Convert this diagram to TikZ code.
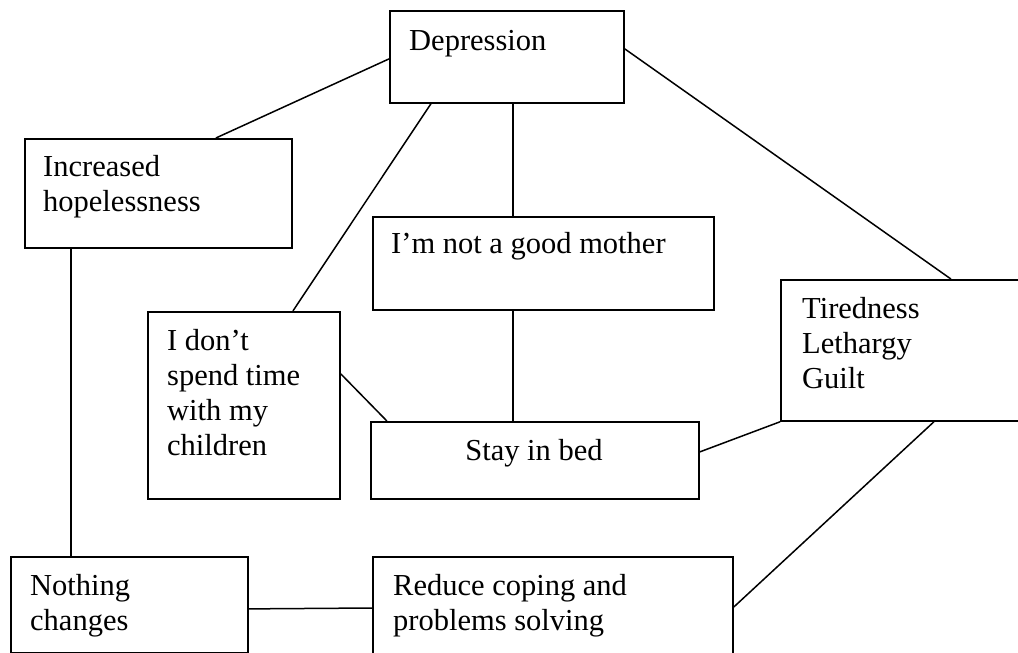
\documentclass[tikz,border=0pt]{standalone}
\usepackage{fontspec}
\setmainfont{Liberation Serif}
\begin{document}
\begin{tikzpicture}[x=1pt,y=-1pt,
  font=\fontsize{30.5}{35.3}\selectfont,
  box/.style={draw,line width=1.8pt,rectangle,inner sep=0pt,anchor=north west},
  txt/.style={inner sep=0pt,anchor=base west},
  link/.style={line width=1.5pt}]
\useasboundingbox (0,0) rectangle (1018,653);
\fill[white] (0,0) rectangle (1018,653);
\clip (0,0) rectangle (1018,653);

% boxes
\node[box,minimum width=234pt,minimum height=92pt]  (dep)  at (389,10)  {};
\node[box,minimum width=267pt,minimum height=109pt] (hop)  at (24,138)  {};
\node[box,minimum width=341pt,minimum height=93pt]  (mom)  at (372,216) {};
\node[box,minimum width=192pt,minimum height=187pt] (dont) at (147,311) {};
\node[box,minimum width=260pt,minimum height=141pt] (tir)  at (780,279) {};
\node[box,minimum width=328pt,minimum height=77pt]  (stay) at (370,421) {};
\node[box,minimum width=237pt,minimum height=96pt]  (noth) at (10,556)  {};
\node[box,minimum width=360pt,minimum height=110pt] (red)  at (372,556) {};

% labels
\node[txt] (tdep)  at (409,50)  {Depression};
\node[txt] (thop)  at (43,176)  {\vtop{\hbox{Increased}\hbox{hopelessness}}};
\node[txt] (tmom)  at (391,253) {I’m not a good mother};
\node[txt] (tdont) at (167,350) {\vtop{\hbox{I don’t}\hbox{spend time}\hbox{with my}\hbox{children}}};
\node[txt] (ttir)  at (802,318) {\vtop{\hbox{Tiredness}\hbox{Lethargy}\hbox{Guilt}}};
\node[inner sep=0pt,anchor=base] (tstay) at (534,460) {Stay in bed};
\node[txt] (tnoth) at (30,595)  {\vtop{\hbox{Nothing}\hbox{changes}}};
\node[txt] (tred)  at (393,595) {\vtop{\hbox{Reduce coping and}\hbox{problems solving}}};

% connectors
\draw[link] ([yshift=-2pt]dep.west) -- ([xshift=57.5pt]hop.north);
\draw[link] ([xshift=-76pt]dep.south) -- ([xshift=49pt]dont.north);
\draw[link] ([xshift=6pt]dep.south) -- ([xshift=-30.5pt]mom.north);
\draw[link] ([yshift=8pt]dep.east) -- ([xshift=40pt]tir.north);
\draw[link] ([xshift=-30.5pt]mom.south) -- ([xshift=-22pt]stay.north);
\draw[link] ([yshift=31.5pt]dont.east) -- ([xshift=-148pt]stay.north);
\draw[link] ([yshift=8.5pt]stay.east) -- (tir.south west);
\draw[link] ([xshift=23pt]tir.south) -- ([yshift=-51pt]red.north east);
\draw[link] ([xshift=-87.5pt]hop.south) -- ([xshift=-58.5pt]noth.north);
\draw[link] ([yshift=-4pt]noth.east) -- ([yshift=-52pt]red.north west);
\end{tikzpicture}
\end{document}
